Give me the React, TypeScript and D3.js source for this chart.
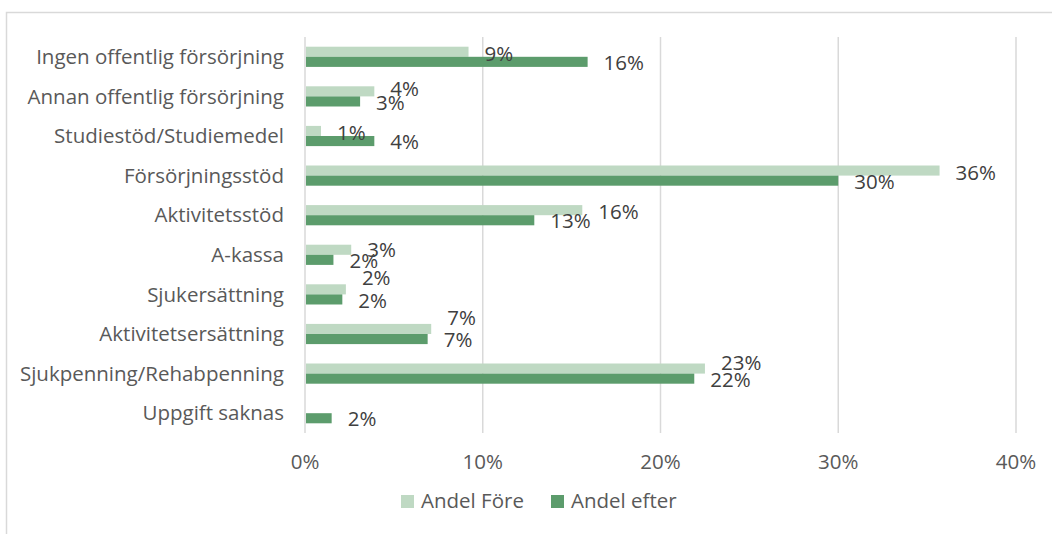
import * as d3 from "d3";

const categories = [
  "Ingen offentlig försörjning",
  "Annan offentlig försörjning",
  "Studiestöd/Studiemedel",
  "Försörjningsstöd",
  "Aktivitetsstöd",
  "A-kassa",
  "Sjukersättning",
  "Aktivitetsersättning",
  "Sjukpenning/Rehabpenning",
  "Uppgift saknas",
];

// shares in percent
const andelFore = [9.2, 3.9, 0.9, 35.7, 15.6, 2.6, 2.3, 7.1, 22.5, 0];
const andelEfter = [15.9, 3.1, 3.9, 30.0, 12.9, 1.6, 2.1, 6.9, 21.9, 1.5];

const ticks = [0, 10, 20, 30, 40];

const seriesNames = ["Andel Före", "Andel efter"];
const colors = ["#bfd9c3", "#5c9c6c"];

const W = 1052;
const H = 534;
const FONT = "'Open Sans', 'Liberation Sans', sans-serif";
const FS = 20.5;

export default function App() {
  const x = d3.scaleLinear().domain([0, 40]).range([305, 1016]);
  const y = d3.scaleBand<string>().domain(categories).range([37, 433]).paddingInner(0.49).paddingOuter(0.245);
  const sub = d3.scaleBand<number>().domain([0, 1]).range([0, y.bandwidth()]);

  const series = [andelFore, andelEfter];

  // like Excel: lift the "före" label when the two labels of a row would collide
  const liftFore = (i: number) => {
    const dx = Math.abs(x(andelFore[i]) - x(andelEfter[i]));
    return Math.max(0, 16 - 0.8 * dx);
  };

  const labelY = (si: number, i: number) => {
    const mid = (y(categories[i]) ?? 0) + (sub(si) ?? 0) + sub.bandwidth() / 2;
    return si === 0 ? mid + 2 - liftFore(i) : mid + 1;
  };

  return (
    <svg
      width={W}
      height={H}
      style={{ position: "absolute", left: 0, top: 0, background: "#fff" }}
      fontFamily={FONT}
    >
      <rect x={6.5} y={12.5} width={1100} height={600} fill="#fff" stroke="#d9d9d9" strokeWidth={1.5} />

      {/* grid */}
      {ticks.map((t) => (
        <line key={t} x1={x(t)} x2={x(t)} y1={37} y2={433} stroke="#d9d9d9" strokeWidth={1.5} />
      ))}

      {/* bars */}
      {series.map((vals, si) =>
        vals.map((v, i) =>
          v > 0 ? (
            <rect
              key={`${si}-${i}`}
              x={x(0) + 1}
              y={(y(categories[i]) ?? 0) + (sub(si) ?? 0)}
              width={x(v) - x(0) - 1}
              height={sub.bandwidth()}
              fill={colors[si]}
            />
          ) : null
        )
      )}

      {/* data labels */}
      {series.map((vals, si) =>
        vals.map((v, i) =>
          v > 0 ? (
            <text key={`l${si}-${i}`} x={x(v) + 16} y={labelY(si, i)} dy="0.35em" fontSize={FS} fill="#404040">
              {Math.round(v)}%
            </text>
          ) : null
        )
      )}

      {/* category labels */}
      {categories.map((c) => (
        <text
          key={c}
          x={284}
          y={(y(c) ?? 0) + y.bandwidth() / 2}
          dy="0.35em"
          textAnchor="end"
          fontSize={FS}
          fill="#595959"
        >
          {c}
        </text>
      ))}

      {/* x tick labels */}
      {ticks.map((t) => (
        <text key={`t${t}`} x={x(t)} y={461.5} dy="0.35em" textAnchor="middle" fontSize={FS} fill="#595959">
          {t}%
        </text>
      ))}

      {/* legend */}
      {seriesNames.map((n, i) => {
        const lx = i === 0 ? 401 : 551;
        return (
          <g key={n}>
            <rect x={lx} y={495} width={13} height={13} fill={colors[i]} />
            <text x={lx + 20} y={500.5} dy="0.35em" fontSize={FS} fill="#595959">
              {n}
            </text>
          </g>
        );
      })}
    </svg>
  );
}
